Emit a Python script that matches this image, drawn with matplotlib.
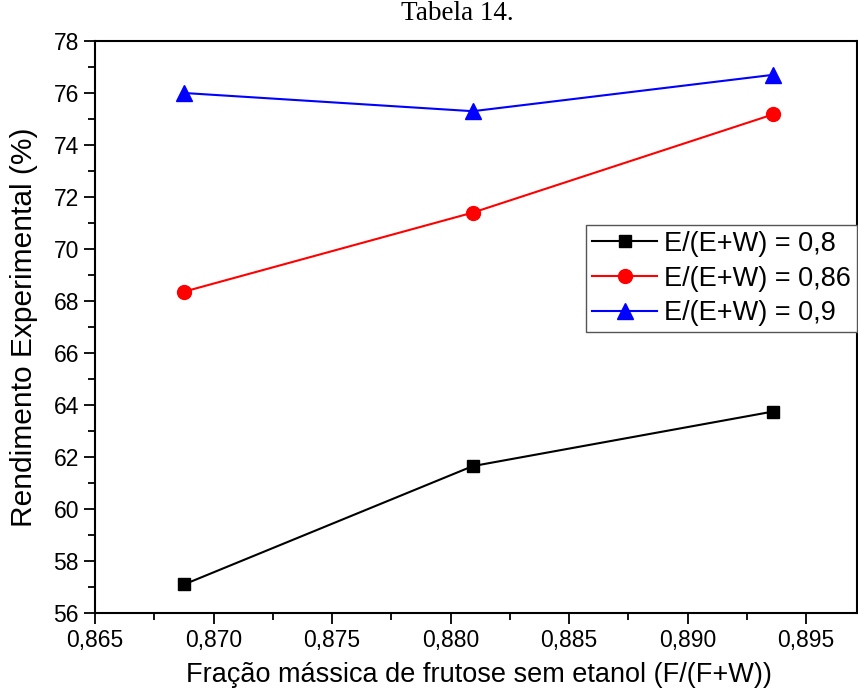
import matplotlib
matplotlib.use("Agg")
import matplotlib.pyplot as plt
from matplotlib.ticker import MultipleLocator, FuncFormatter

x_vals = [0.86876, 0.88094, 0.89362]
y_08 = [57.1, 61.65, 63.75]
y_086 = [68.36, 71.4, 75.18]
y_09 = [76.0, 75.3, 76.7]
labels = ["E/(E+W) = 0,8", "E/(E+W) = 0,86", "E/(E+W) = 0,9"]

plt.rcParams['font.family'] = ['Liberation Sans', 'DejaVu Sans']

fig = plt.figure(figsize=(8.58, 6.98), dpi=100)
ax = fig.add_axes([95/858, 85/698, 762/858, 572/698])

ax.plot(x_vals, y_08, color='black', marker='s', markersize=9, lw=1.5, label=labels[0])
ax.plot(x_vals, y_086, color='red', marker='o', markersize=10, lw=1.5, label=labels[1])
ax.plot(x_vals, y_09, color='blue', marker='^', markersize=11, lw=1.5, label=labels[2])

ax.set_xlim(0.865, 0.86500 + 762/118.5*0.005)
ax.set_ylim(56, 78)
ax.xaxis.set_major_locator(MultipleLocator(0.005))
ax.xaxis.set_minor_locator(MultipleLocator(0.0025))
ax.yaxis.set_major_locator(MultipleLocator(2))
ax.yaxis.set_minor_locator(MultipleLocator(1))
ax.xaxis.set_major_formatter(FuncFormatter(lambda v, p: f"{v:.3f}".replace('.', ',')))
ax.yaxis.set_major_formatter(FuncFormatter(lambda v, p: f"{v:.0f}"))
ax.tick_params(which='both', direction='out', top=False, right=False, width=1.3, labelsize=16.5)
ax.tick_params(which='major', length=8)
ax.tick_params(which='minor', length=5)
for s in ax.spines.values():
    s.set_linewidth(1.5)

ax.set_xlabel("Fração mássica de frutose sem etanol (F/(F+W))", fontsize=19.5)
ax.set_ylabel("Rendimento Experimental (%)", fontsize=21.5)
ax.xaxis.set_label_coords(479/858, 1 - 662/698, transform=fig.transFigure)
ax.yaxis.set_label_coords(38/858, 1 - 327/698, transform=fig.transFigure)

fig.text(457/858, 1 - 13/698, "Tabela 14.", ha='center', va='center',
         fontsize=19.5, family=['Liberation Serif', 'DejaVu Serif'])

leg = ax.legend(loc='upper right', bbox_to_anchor=(857/858, 1 - 225/698),
                bbox_transform=fig.transFigure, fontsize=19.5, fancybox=False,
                framealpha=1, edgecolor='#555555', handlelength=2.4,
                borderpad=0.22, labelspacing=0.32, handletextpad=0.25, numpoints=1,
                borderaxespad=0)
leg.get_frame().set_linewidth(1.0)

fig.savefig("out.png", dpi=100)
